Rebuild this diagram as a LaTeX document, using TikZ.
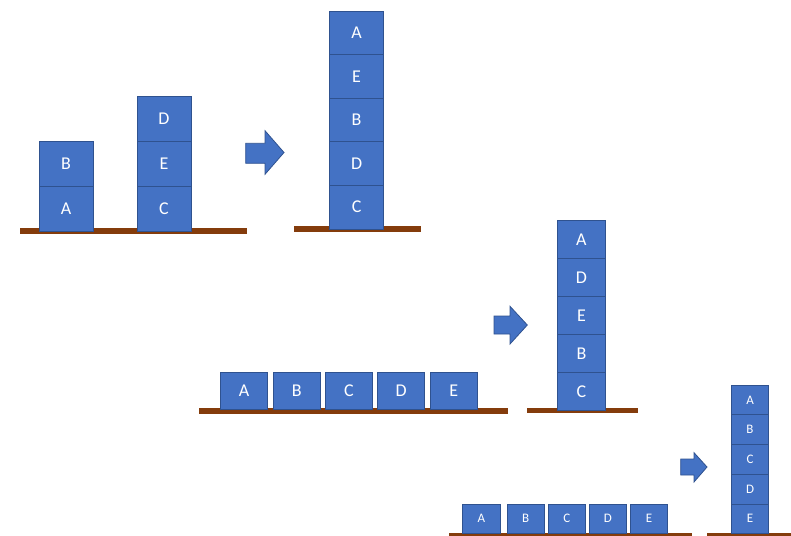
\documentclass[tikz,border=0pt]{standalone}
\usepackage{fontspec}
\setmainfont{Carlito}
\definecolor{boxblue}{HTML}{4472C4}
\definecolor{boxline}{HTML}{2F528F}
\definecolor{ground}{HTML}{843C0C}
\tikzset{
  blk/.style={draw=boxline, fill=boxblue, line width=0.8pt, text=white, inner sep=0pt, font=\fontsize{18}{20}\selectfont},
  blkA/.style={blk, minimum width=54pt, minimum height=45pt},
  blkB/.style={blk, minimum width=54pt, minimum height=43.6pt},
  blkC/.style={blk, minimum width=47pt, minimum height=36.7pt},
  blkD/.style={blk, minimum width=47.3pt, minimum height=38pt},
  blkE/.style={blk, font=\fontsize{13}{15}\selectfont, minimum width=37.3pt, minimum height=29.3pt},
  blkF/.style={blk, font=\fontsize{13}{15}\selectfont, minimum width=37.4pt, minimum height=29.7pt},
  floor/.style={fill=ground, draw=none},
  bigarrow/.style={draw=boxline, fill=boxblue, line width=0.8pt, line join=miter},
}
\begin{document}
\begin{tikzpicture}[x=1pt, y=-1pt]
\useasboundingbox (0,0) rectangle (791,535);
\clip (0,0) rectangle (791,535);
% grounds
\fill[floor] (20,228) rectangle (246.5,234);
\fill[floor] (294,226) rectangle (421.3,232.3);
\fill[floor] (199.3,408.3) rectangle (508,414);
\fill[floor] (527,407.7) rectangle (637.7,413);
\fill[floor] (449.3,533.3) rectangle (691.7,538);
\fill[floor] (707,533.3) rectangle (795,538);
% scene 1
\node[blkA] (s1B) at (66,163.5) {B};
\node[blkA] (s1A) at (66,208.5) {A};
\node[blkA] (s1D) at (164,118.5) {D};
\node[blkA] (s1E) at (164,163.5) {E};
\node[blkA] (s1C) at (164,208.5) {C};
\draw[bigarrow] (245.7,143.3) -- (265,143.3) -- (265,130.7) -- (284,152.5) -- (265,174.3) -- (265,163.3) -- (245.7,163.3) -- cycle;
% scene 2
\node[blkB] (s2A) at (356.6,32.8) {A};
\node[blkB] (s2E) at (356.6,76.4) {E};
\node[blkB] (s2B) at (356.6,120) {B};
\node[blkB] (s2D) at (356.6,163.6) {D};
\node[blkB] (s2C) at (356.6,207.2) {C};
% scene 3
\node[blkC] (r3A) at (244.2,390.7) {A};
\node[blkC] (r3B) at (296.7,390.7) {B};
\node[blkC] (r3C) at (348.9,390.7) {C};
\node[blkC] (r3D) at (401.2,390.7) {D};
\node[blkC] (r3E) at (453.7,390.7) {E};
\draw[bigarrow] (494,316) -- (510,316) -- (510,306.3) -- (527.3,325) -- (510,344) -- (510,334) -- (494,334) -- cycle;
\node[blkD] (s3A) at (581.4,239.3) {A};
\node[blkD] (s3D) at (581.4,277.3) {D};
\node[blkD] (s3E) at (581.4,315.3) {E};
\node[blkD] (s3B) at (581.4,353.3) {B};
\node[blkD] (s3C) at (581.4,391.3) {C};
% scene 4
\node[blkE] (r4A) at (481.4,518.7) {A};
\node[blkE] (r4B) at (525.7,518.7) {B};
\node[blkE] (r4C) at (566.9,518.7) {C};
\node[blkE] (r4D) at (607.9,518.7) {D};
\node[blkE] (r4E) at (649,518.7) {E};
\draw[bigarrow] (680.7,459) -- (694,459) -- (694,452.7) -- (707,467) -- (694,482) -- (694,475) -- (680.7,475) -- cycle;
\node[blkF] (s4A) at (750,400) {A};
\node[blkF] (s4B) at (750,429.7) {B};
\node[blkF] (s4C) at (750,459.4) {C};
\node[blkF] (s4D) at (750,489.1) {D};
\node[blkF] (s4E) at (750,518.8) {E};
\end{tikzpicture}
\end{document}
